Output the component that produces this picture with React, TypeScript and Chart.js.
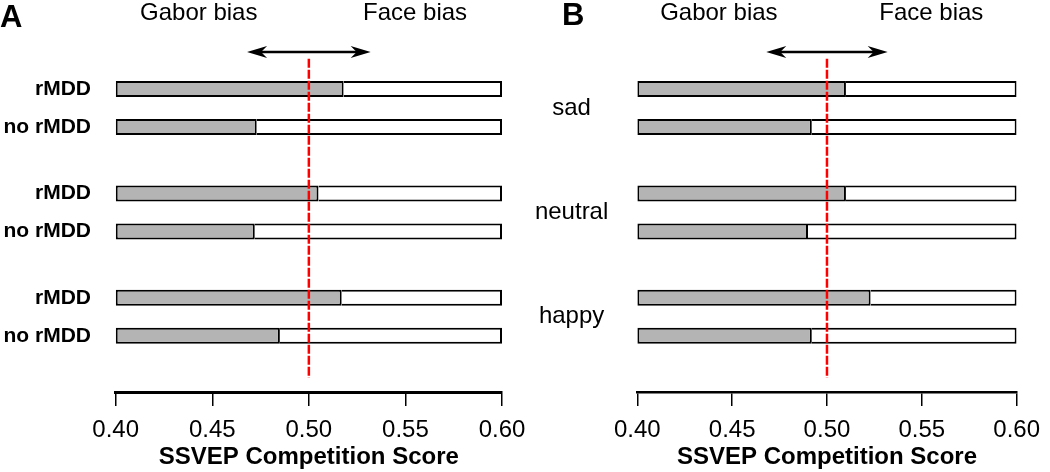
import React, { useEffect, useRef } from 'react';
import { Chart, registerables } from 'chart.js';
Chart.register(...registerables);

// ---- data ----
const rowLabelsA = ['rMDD', 'no rMDD'];
const rMDD_A = [0.518, 0.505, 0.517];
const noRMDD_A = [0.473, 0.472, 0.485];
const emotionsB = ['sad', 'neutral', 'happy'];
const upperB = [0.510, 0.510, 0.523];
const lowerB = [0.492, 0.490, 0.492];
const xTickValues = [0.40, 0.45, 0.50, 0.55, 0.60];
const biasLabels = ['Gabor bias', 'Face bias'];
const panelLetters = ['A', 'B'];
const axisTitle = 'SSVEP Competition Score';
const threshold = 0.5;
const xMin = 0.40;
const xMax = 0.60;

const FONT = "'Liberation Sans', Arial, sans-serif";
const GREY = '#b4b4b4';

Chart.defaults.font.family = FONT;
Chart.defaults.color = '#000';

function makeDatasets(top: number[], bottom: number[]) {
  const part = (vals: number[], stack: string, gabor: boolean) => ({
    label: stack + (gabor ? ' gabor' : ' face'),
    stack,
    data: vals.map((v, i) => ({ x: gabor ? [xMin, v] : [v, xMax], y: i })),
    backgroundColor: gabor ? GREY : '#ffffff',
    borderColor: '#000',
    borderWidth: gabor ? 2 : { top: 2, right: 2, bottom: 2, left: 0 },
    borderSkipped: false,
    categoryPercentage: 0.728,
    barPercentage: 0.42,
  });
  return [
    part(top, 'upper', true),
    part(top, 'upper', false),
    part(bottom, 'lower', true),
    part(bottom, 'lower', false),
  ];
}

function overlayPlugin(letter: string, letterX: number, letterBase: number) {
  return {
    id: 'overlay' + letter,
    afterDatasetsDraw(chart: any) {
      const { ctx, chartArea, scales } = chart;
      const x = scales.x;
      const xp = x.getPixelForValue(threshold);
      ctx.save();
      // red dashed reference line
      ctx.strokeStyle = '#ff0000';
      ctx.lineWidth = 2.5;
      ctx.setLineDash([9, 2]);
      ctx.beginPath();
      ctx.moveTo(xp, chartArea.top + 3);
      ctx.lineTo(xp, chartArea.bottom - 14);
      ctx.stroke();
      ctx.setLineDash([]);
      // double arrow
      const ay = 52;
      const x1 = x.getPixelForValue(threshold - 0.032);
      const x2 = x.getPixelForValue(threshold + 0.032);
      ctx.strokeStyle = '#000';
      ctx.fillStyle = '#000';
      ctx.lineWidth = 2.5;
      ctx.beginPath();
      ctx.moveTo(x1 + 8, ay);
      ctx.lineTo(x2 - 8, ay);
      ctx.stroke();
      const head = (tip: number, dir: number) => {
        ctx.beginPath();
        ctx.moveTo(tip, ay);
        ctx.lineTo(tip - dir * 20, ay - 6);
        ctx.lineTo(tip - dir * 14, ay);
        ctx.lineTo(tip - dir * 20, ay + 6);
        ctx.closePath();
        ctx.fill();
      };
      head(x2, 1);
      head(x1, -1);
      // bias labels
      ctx.font = `24px ${FONT}`;
      ctx.textAlign = 'center';
      ctx.textBaseline = 'alphabetic';
      ctx.fillText(biasLabels[0], x.getPixelForValue(threshold - 0.057), 20);
      ctx.fillText(biasLabels[1], x.getPixelForValue(threshold + 0.055), 20);
      // panel letter
      ctx.font = `bold 31px ${FONT}`;
      ctx.textAlign = 'left';
      ctx.fillText(letter, letterX, letterBase);
      ctx.restore();
    },
  };
}

function xScale(borderWidth: number) {
  return {
    type: 'linear',
    position: 'bottom',
    min: xMin,
    max: xMax,
    stacked: false,
    afterBuildTicks: (s: any) => {
      s.ticks = xTickValues.map((v) => ({ value: v }));
    },
    afterFit: (s: any) => {
      s.height = 80;
    },
    ticks: {
      callback: (v: any) => Number(v).toFixed(2),
      font: { size: 24 },
      color: '#000',
      padding: 10,
      autoSkip: false,
      maxRotation: 0,
    },
    grid: { drawOnChartArea: false, drawTicks: true, tickLength: 14, color: '#000', lineWidth: 1.5 },
    border: { display: true, color: '#000', width: borderWidth },
    title: {
      display: true,
      text: axisTitle,
      font: { size: 24, weight: 'bold' },
      color: '#000',
      padding: { top: 0, bottom: 0 },
    },
  };
}

function yScale(count: number, width: number, ticks: any) {
  return {
    type: 'linear',
    reverse: true,
    offset: false,
    min: -0.5,
    max: 2.72,
    afterBuildTicks: (s: any) => {
      s.ticks = Array.from({ length: count }, (_, i) => ({ value: i }));
    },
    afterFit: (s: any) => {
      s.width = width;
      s.paddingTop = 0;
      s.paddingBottom = 0;
    },
    ticks: { autoSkip: false, color: '#000', ...ticks },
    grid: { display: false, drawTicks: false, offset: false },
    border: { display: false },
  };
}

function baseOptions(rightPad: number, y: any, axisWidth: number) {
  return {
    indexAxis: 'y',
    animation: false,
    responsive: false,
    layout: { padding: { left: 0, right: rightPad, top: 55.8, bottom: 0 } },
    plugins: { legend: { display: false }, tooltip: { enabled: false } },
    scales: { x: xScale(axisWidth), y },
  };
}

function buildConfigA(): any {
  const opts: any = baseOptions(
    38,
    yScale(rMDD_A.length, 115.7, {
      callback: () => rowLabelsA,
      font: { size: 21, weight: 'bold', lineHeight: 38 / 21 },
      padding: 24.7,
    }),
    3
  );
  return {
    type: 'bar',
    data: { datasets: makeDatasets(rMDD_A, noRMDD_A) },
    options: opts,
    plugins: [overlayPlugin(panelLetters[0], 0, 27)],
  };
}

function buildConfigB(): any {
  const opts: any = baseOptions(
    31.7,
    yScale(emotionsB.length, 117.3, {
      callback: (v: any) => emotionsB[v],
      font: { size: 24 },
      crossAlign: 'center',
      padding: 29,
    }),
    2.5
  );
  return {
    type: 'bar',
    data: { datasets: makeDatasets(upperB, lowerB) },
    options: opts,
    plugins: [overlayPlugin(panelLetters[1], 42, 25)],
  };
}

export default function App() {
  const refA = useRef<HTMLCanvasElement>(null);
  const refB = useRef<HTMLCanvasElement>(null);
  useEffect(() => {
    const a = new Chart(refA.current as HTMLCanvasElement, buildConfigA());
    const b = new Chart(refB.current as HTMLCanvasElement, buildConfigB());
    return () => {
      a.destroy();
      b.destroy();
    };
  }, []);
  return (
    <div style={{ position: 'fixed', left: 0, top: 0, width: 1050, height: 472, background: '#fff' }}>
      <canvas ref={refA} width={540} height={472} style={{ position: 'absolute', left: 0, top: 0 }} />
      <canvas ref={refB} width={530} height={472} style={{ position: 'absolute', left: 520, top: 0 }} />
    </div>
  );
}
